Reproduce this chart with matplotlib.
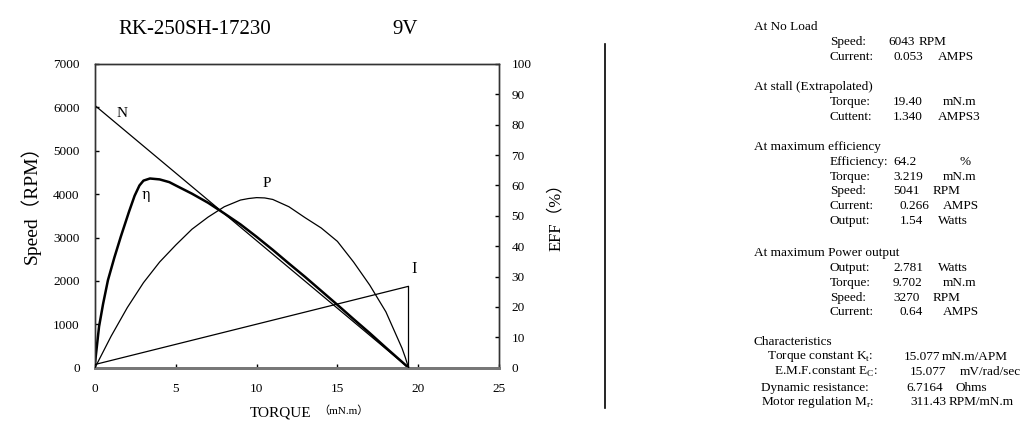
import matplotlib
matplotlib.use("Agg")
import matplotlib.pyplot as plt
from matplotlib.lines import Line2D

# ---- data ----
model = "RK-250SH-17230"
voltage = "9V"

# speed line N (RPM) and current line I (A)
n_torque = [0.0, 19.40]
n_speed = [6043, 0]
i_torque = [0.0, 19.40, 19.40]
i_current = [0.053, 1.340, 0.0]

# output power P (W)
p_torque = [0, 1, 2, 3, 4, 5, 6, 7, 8, 9, 9.5, 10, 10.5, 11, 12, 13, 14, 15, 16, 17, 18, 19,
            19.2, 19.4]
p_watts = [0.0, 0.52, 0.99, 1.40, 1.74, 2.02, 2.28, 2.48, 2.65, 2.76, 2.785, 2.80, 2.795, 2.77,
           2.65, 2.47, 2.30, 2.08, 1.74, 1.36, 0.92, 0.32, 0.17, 0.0]

# efficiency eta (%)
e_torque = [0, 0.25, 0.5, 0.8, 1.2, 1.6, 2.1, 2.45, 2.75, 3.0, 3.4, 4.0, 4.6, 5, 6, 7, 8, 9, 10,
            11, 12, 13, 14, 15, 16, 17, 18, 19, 19.4]
e_eff = [1.5, 13.5, 21.0, 28.8, 36.3, 43.2, 51.3, 56.6, 60.0, 61.6, 62.3, 62.0, 61.1, 60.0, 57.3,
         54.3, 50.8, 47.2, 43.1, 38.8, 34.3, 29.9, 25.3, 20.7, 16.0, 11.4, 6.6, 1.9, 0.0]

speed_ticks = [0, 1000, 2000, 3000, 4000, 5000, 6000, 7000]
eff_ticks = [0, 10, 20, 30, 40, 50, 60, 70, 80, 90, 100]
torque_ticks = [0, 5, 10, 15, 20, 25]

# right-hand data sheet
headings = ["At No Load", "At stall (Extrapolated)", "At maximum efficiency",
            "At maximum Power output", "Characteristics"]
row_labels = ["Speed:", "Current:", "Torque:", "Cuttent:", "Efficiency:", "Torque:", "Speed:",
              "Current:", "Output:", "Output:", "Torque:", "Speed:", "Current:"]
row_values = ["6043", "0.053", "19.40", "1.340", "64.2", "3.219", "5041", "0.266", "1.54",
              "2.781", "9.702", "3270", "0.64"]
row_units = ["RPM", "AMPS", "mN.m", "AMPS3", "%", "mN.m", "RPM", "AMPS", "Watts",
             "Watts", "mN.m", "RPM", "AMPS"]
char_labels = [r"Torque constant K$_\mathregular{t}$:", r"E.M.F.constant E$_\mathregular{C}$:",
               "Dynamic resistance:", r"Motor regulation M$_\mathregular{r}$:"]
char_values = ["15.077", "15.077", "6.7164", "311.43"]
char_units = ["mN.m/APM", "mV/rad/sec", "Ohms", "RPM/mN.m"]

# pixel positions of the data sheet (1030x428 canvas)
heading_y = [27, 87, 147, 253, 342]
row_y = [42, 57, 102, 117, 162, 177, 191, 206, 221, 268, 283, 298, 312]
row_vx = [888, 893, 893, 893, 893, 893, 893, 900, 900, 893, 893, 893, 900]
row_ux = [919, 938, 943, 938, 959, 943, 933, 943, 938, 938, 943, 933, 943]
char_y = [357, 372, 388, 402]
char_lx = [767, 774, 761, 761]
char_vx = [904, 910, 906, 910]
char_ux = [942, 960, 956, 949]

W, H = 1030, 428
serif = ["Liberation Serif", "Noto Sans CJK SC"]
plt.rcParams["mathtext.fontset"] = "custom"
plt.rcParams["mathtext.rm"] = "Liberation Serif"

fig = plt.figure(figsize=(W / 100, H / 100), dpi=100)
ax = fig.add_axes([95 / W, 1 - 367.7 / H, 404 / W, 303.7 / H])
ax2 = ax.twinx()
ax3 = ax.twinx()

ax.plot(n_torque, n_speed, color="black", lw=0.9)
ax2.plot(e_torque, e_eff, color="black", lw=1.8)
ax3.plot(p_torque, p_watts, color="black", lw=0.9)
ax3.plot(i_torque, i_current, color="black", lw=0.9)

ax.set_xlim(0, 25)
ax.set_ylim(0, 7000)
ax2.set_ylim(0, 100)
ax3.set_ylim(0, 5)
ax3.axis("off")

ax.set_xticks(torque_ticks)
ax.set_yticks(speed_ticks)
ax2.set_yticks(eff_ticks)
for a in (ax, ax2):
    a.tick_params(direction="in", length=3, width=1, labelsize=9.5)
    for lab in a.get_xticklabels() + a.get_yticklabels():
        lab.set_family("Liberation Serif")
ax.tick_params(axis="y", pad=11)
ax.tick_params(axis="x", pad=11)
ax2.tick_params(axis="y", pad=9)

for a in (ax, ax2):
    for s in a.spines.values():
        s.set_linewidth(1.0)
        s.set_color("#333333")
    a.spines["bottom"].set_linewidth(2.0)
    a.spines["bottom"].set_color("#777777")

# curve letters
ax.text(1.7, 5870, "N", family=serif, fontsize=11, ha="center", va="center")
ax.text(3.15, 3990, "η", family=["DejaVu Serif"], fontsize=10, ha="center", va="center")
ax.text(10.6, 4240, "P", family=serif, fontsize=11, ha="center", va="center")
ax.text(19.75, 2270, "I", family=serif, fontsize=12, ha="center", va="center")

# titles and axis labels
fig.text(195 / W, 1 - 30 / H, model, family=serif, fontsize=15, ha="center", va="center")
fig.text(405 / W, 1 - 30 / H, voltage, family=serif, fontsize=15, ha="center", va="center")
fig.text(30 / W, 1 - 200 / H, "Speed（RPM）", family=serif, fontsize=14, rotation=90,
         ha="center", va="center")
fig.text(556 / W, 1 - 213 / H, "EFF（%）", family=serif, fontsize=12, rotation=90,
         ha="center", va="center")
fig.text(281 / W, 1 - 413 / H, "TORQUE", family=serif, fontsize=11, ha="center", va="center")
fig.text(343 / W, 1 - 411 / H, "（mN.m）", family=serif, fontsize=8, ha="center", va="center")

# separator
fig.add_artist(Line2D([605 / W, 605 / W], [1 - 44 / H, 1 - 408 / H], color="black", lw=1.2))

# data sheet
fs = 9.5
for txt, y in zip(headings, heading_y):
    fig.text(754 / W, 1 - y / H, txt, family=serif, fontsize=fs, va="center")
for lab, val, unit, y, vx, ux in zip(row_labels, row_values, row_units, row_y, row_vx, row_ux):
    fig.text(830 / W, 1 - y / H, lab, family=serif, fontsize=fs, va="center")
    fig.text(vx / W, 1 - y / H, val, family=serif, fontsize=fs, va="center")
    fig.text(ux / W, 1 - y / H, unit, family=serif, fontsize=fs, va="center")
for lab, val, unit, y, lx, vx, ux in zip(char_labels, char_values, char_units, char_y,
                                         char_lx, char_vx, char_ux):
    fig.text(lx / W, 1 - y / H, lab, family=serif, fontsize=fs, va="center")
    fig.text(vx / W, 1 - y / H, val, family=serif, fontsize=fs, va="center")
    fig.text(ux / W, 1 - y / H, unit, family=serif, fontsize=fs, va="center")

fig.savefig("out.png", dpi=100)
